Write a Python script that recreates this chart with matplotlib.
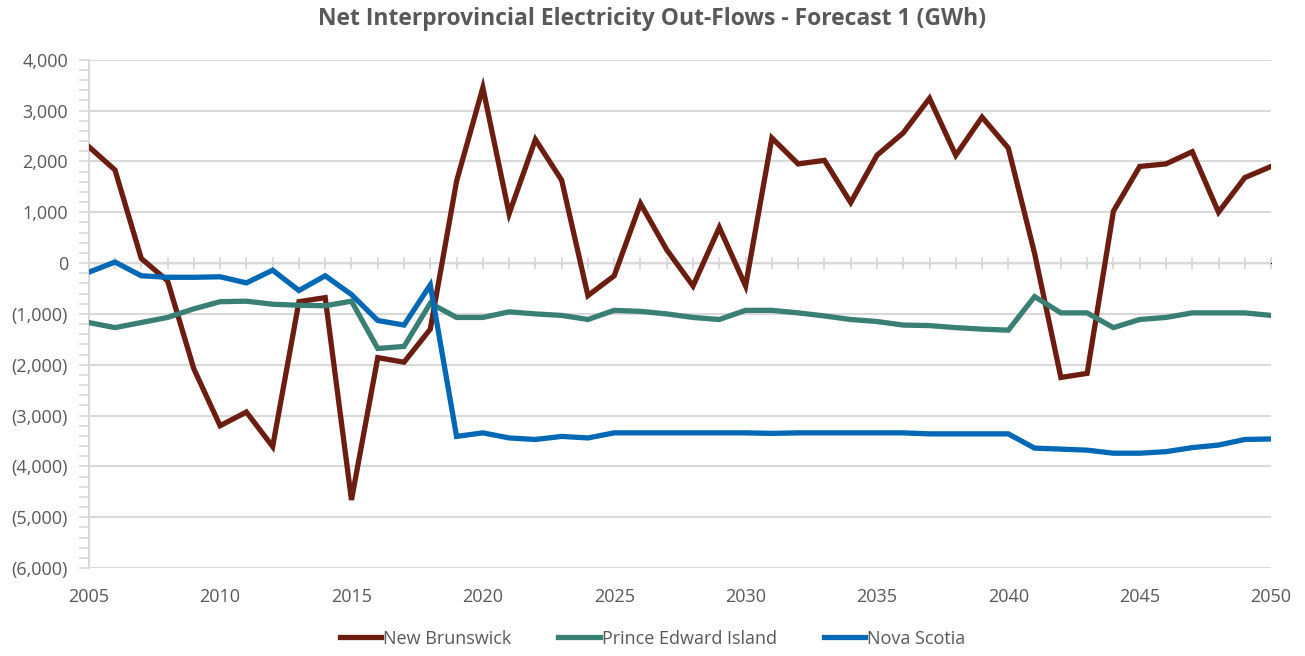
import numpy as np
import matplotlib
matplotlib.use("Agg")
from matplotlib import pyplot as plt
from matplotlib.ticker import FuncFormatter, MultipleLocator

years = list(range(2005, 2051))

new_brunswick = [2290, 1830, 90, -350, -2080, -3200, -2930, -3610, -760, -680,
                 -4660, -1860, -1950, -1300, 1610, 3450, 970, 2430, 1630, -640,
                 -250, 1170, 260, -450, 700, -450, 2460, 1950, 2020, 1190,
                 2120, 2560, 3240, 2120, 2870, 2260, 190, -2250, -2170, 1020,
                 1900, 1950, 2190, 1000, 1680, 1900]

prince_edward_island = [-1170, -1270, -1170, -1070, -900, -760, -750, -810, -830, -840,
                        -750, -1680, -1640, -790, -1070, -1070, -960, -1000, -1030, -1110,
                        -930, -950, -1000, -1070, -1110, -930, -930, -980, -1040, -1110,
                        -1150, -1220, -1230, -1270, -1300, -1320, -660, -980, -980, -1270,
                        -1110, -1070, -980, -980, -980, -1030]

nova_scotia = [-180, 20, -250, -280, -280, -270, -390, -140, -540, -250,
               -620, -1130, -1220, -430, -3410, -3340, -3440, -3470, -3410, -3440,
               -3340, -3340, -3340, -3340, -3340, -3340, -3350, -3340, -3340, -3340,
               -3340, -3340, -3360, -3360, -3360, -3360, -3640, -3660, -3680, -3740,
               -3740, -3710, -3630, -3580, -3470, -3460]

series = [("New Brunswick", new_brunswick, "#6B1E10"),
          ("Prince Edward Island", prince_edward_island, "#3A7F74"),
          ("Nova Scotia", nova_scotia, "#0068B5")]

text_gray = "#595959"
grid_gray = "#D9D9D9"

plt.rcParams['font.family'] = ['Open Sans', 'DejaVu Sans']

fig = plt.figure(figsize=(13.05, 6.56), dpi=100)
ax = fig.add_axes([0.068, 0.134, 0.906, 0.775])

for name, vals, col in series:
    ax.plot(years, vals, color=col, lw=3.8, label=name, solid_joinstyle='miter', zorder=3)

ax.set_xlim(2005, 2050)
ax.set_ylim(-6000, 4000)

def fmt(v, pos):
    if v < 0:
        return "({:,.0f})".format(-v)
    return "{:,.0f}".format(v)

ax.yaxis.set_major_locator(MultipleLocator(1000))
ax.yaxis.set_minor_locator(MultipleLocator(200))
ax.yaxis.set_major_formatter(FuncFormatter(fmt))
ax.grid(axis='y', which='major', color=grid_gray, lw=1.5, zorder=0)

ax.xaxis.set_major_locator(MultipleLocator(5))
ax.tick_params(axis='x', which='major', length=0, pad=14, labelsize=13, labelcolor=text_gray)
ax.tick_params(axis='y', which='both', direction='out', color=grid_gray, width=1.2, labelsize=13,
               labelcolor=text_gray, pad=8)
ax.tick_params(axis='y', which='major', length=7)
ax.tick_params(axis='y', which='minor', length=7)

for s in ['top', 'right', 'bottom']:
    ax.spines[s].set_visible(False)
ax.spines['left'].set_color(grid_gray)
ax.spines['left'].set_linewidth(1.5)

# horizontal axis crossing at zero, with a tick at every year
zero_frac = (0 - (-6000)) / 10000
secax = ax.secondary_xaxis(zero_frac)
secax.set_xticks(years)
secax.tick_params(direction='inout', length=9, width=1.3, color=grid_gray, labelbottom=False,
                  labeltop=False)
secax.spines['bottom'].set_color(grid_gray)
secax.spines['bottom'].set_linewidth(1.5)
secax.spines['bottom'].set_zorder(1)

fig.suptitle("Net Interprovincial Electricity Out-Flows - Forecast 1 (GWh)", x=0.5, y=0.99,
             fontsize=16.5, fontweight='bold', color=text_gray)

leg = fig.legend(loc='lower center', bbox_to_anchor=(0.5, -0.012), ncol=3, frameon=False,
                 fontsize=13, labelcolor=text_gray, handlelength=2.3, handletextpad=0.1,
                 columnspacing=2.6)

fig.savefig("out.png", dpi=100)
